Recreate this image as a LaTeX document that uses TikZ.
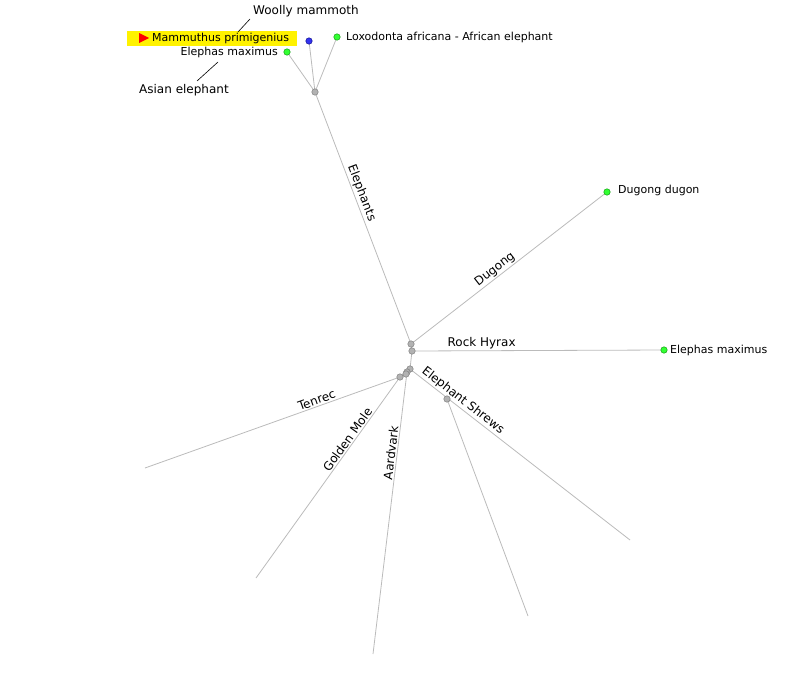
\documentclass[tikz,border=0pt]{standalone}
\usepackage{fontspec}
\setmainfont{DejaVu Sans}
\definecolor{edgegray}{HTML}{BBBBBB}
\definecolor{dotgreen}{HTML}{33FF33}
\definecolor{dotblue}{HTML}{3333EE}
\begin{document}
\begin{tikzpicture}[x=1pt,y=-1pt,
  edge/.style={draw=edgegray,line width=0.8pt},
  inner/.style={circle,fill=gray!60,draw=gray!90!black,line width=0.4pt,minimum size=6.5pt,inner sep=0pt},
  leafg/.style={circle,fill=dotgreen,draw=green!55!black,line width=0.4pt,minimum size=6.5pt,inner sep=0pt},
  leafb/.style={circle,fill=dotblue,draw=blue!50!black,line width=0.4pt,minimum size=6.5pt,inner sep=0pt},
  elab/.style={font=\fontsize{12}{14}\selectfont,sloped,above,inner sep=1.5pt},
  llab/.style={font=\fontsize{11}{13}\selectfont,inner sep=0pt},
  clab/.style={font=\fontsize{12}{14}\selectfont,inner sep=0pt,anchor=west}]
\useasboundingbox (0,0) rectangle (808,680);
% coordinates
\coordinate (tr) at (145,468);
\coordinate (gm) at (256,578);
\coordinate (aa) at (373,654);
\coordinate (es1) at (630,540);
\coordinate (es2) at (528,616);
% edges (drawn first)
\draw[edge] (315,92) -- (411,344);
\draw[edge] (315,92) -- (287,52);
\draw[edge] (315,92) -- (309,41);
\draw[edge] (315,92) -- (337,37);
\draw[edge] (411,344) -- (412,351) -- (410,369) -- (407,372) -- (400,377);
\draw[edge] (411,344) -- (607,192);
\draw[edge] (412,351) -- (664,350);
\draw[edge] (410,369) -- (630,540);
\draw[edge] (447,399) -- (528,616);
\draw[edge] (407,372) -- (373,654);
\draw[edge] (400,377) -- (256,578);
\draw[edge] (400,377) -- (145,468);
% nodes
\node[inner] (el) at (315,92) {};
\node[leafg] (lm) at (287,52) {};
\node[leafb] (mp) at (309,41) {};
\node[leafg] (la) at (337,37) {};
\node[inner] (hA) at (411,344) {};
\node[inner] (hB) at (412,351) {};
\node[inner] (hC) at (410,369) {};
\node[inner] (hD) at (407,372) {};
\node[inner] (hE) at (406,374) {};
\node[inner] (hF) at (400,377) {};
\node[inner] (es) at (447,399) {};
\node[leafg] (dg) at (607,192) {};
\node[leafg] (em) at (664,350) {};
% edge labels
\path (el) -- node[elab,pos=0.41] {Elephants} (hA);
\path (hA) -- node[elab,pos=0.45] {Dugong} (dg);
\path (hB) -- node[elab,pos=0.27] {Rock Hyrax} (em);
\path (hC) -- node[elab,pos=0.21] {Elephant Shrews} (es1);
\path (tr) -- node[elab,pos=0.69] {Tenrec} (hF);
\path (gm) -- node[elab,pos=0.68] {Golden Mole} (hF);
\path (aa) -- node[elab,pos=0.72] {Aardvark} (hD);
% leaf labels
\fill[yellow] (127,31) rectangle (297,46);
\fill[red] (139,33) -- (139,43) -- (149,38) -- cycle;
\node[llab,anchor=west] (tmp) at (152,38.5) {Mammuthus primigenius};
\node[llab,anchor=east] (tlm) at (278,52.5) {Elephas maximus};
\node[llab,anchor=west] (tla) at (346,37.5) {Loxodonta africana - African elephant};
\node[llab,anchor=west] (tdg) at (618,190.5) {Dugong dugon};
\node[llab,anchor=west] (tem) at (670,350.5) {Elephas maximus};
\node[clab] (wm) at (253,11) {Woolly mammoth};
\node[clab] (ae) at (139,90.5) {Asian elephant};
\coordinate (wm1) at (238,32);
\coordinate (wm2) at (250,19);
\coordinate (ae1) at (197,81);
\coordinate (ae2) at (218,62);
\draw[black,line width=0.6pt] (wm1) -- (wm2);
\draw[black,line width=0.6pt] (ae1) -- (ae2);
\end{tikzpicture}
\end{document}
